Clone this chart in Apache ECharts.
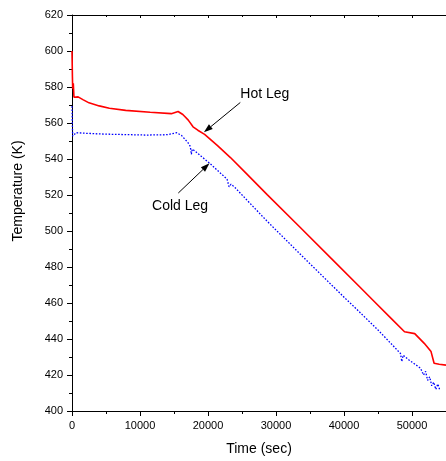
<!DOCTYPE html>
<html>
<head>
<meta charset="utf-8">
<script src="https://cdn.jsdelivr.net/npm/echarts@6/dist/echarts.min.js"></script>
<style>
html,body{margin:0;padding:0;background:#fff;}
#c{width:446px;height:461px;}
</style>
</head>
<body>
<div id="c"></div>
<script>
// ---- data ----
const hotTime = [0, 60, 100, 190, 290, 900, 1600, 2500, 4000, 5500, 7900, 11500, 14600, 15600, 16300, 17100, 17800, 18500, 19500, 21400, 23300, 25800, 28700, 33500, 38300, 42400, 44300, 47000, 48900, 50400, 51800, 52800, 53250, 54000, 55000];
const hotTemp = [600, 586, 579, 582, 574.3, 574.5, 573, 571.2, 569.5, 568.2, 567, 566, 565.2, 566.4, 564.7, 561.6, 557.9, 556, 553.7, 547.4, 540.8, 531.3, 520.2, 502.2, 484.1, 468.6, 461.4, 451.2, 444, 443, 437.6, 433, 426.5, 426, 425.5];

const coldTime = [0, 60, 100, 300, 600, 2500, 5000, 11000, 14000, 15400, 16100, 17050, 17400, 17550, 17700, 18200, 19000, 20200, 22800, 23100, 23400, 24000, 28600, 34000, 40200, 41600, 45000, 48300, 48500, 48700, 49500, 51250, 51700, 52000, 52300, 52600, 52900, 53200, 53500, 53800, 54100];
const coldTemp = [569.3, 558, 552.7, 553, 554.6, 554.2, 553.8, 553.3, 553.5, 554.6, 553.1, 549.1, 547, 542.6, 545.5, 544, 541.5, 537.8, 528.8, 524.6, 526, 524, 505.8, 485.5, 462.5, 457.5, 445, 432, 427.5, 431, 428.5, 423.8, 420, 422, 417, 419, 414, 416, 412, 415, 411.5];

const xTicks = { min: 0, max: 55000, interval: 10000 };
const yTicks = { min: 400, max: 620, interval: 20 };

const seriesNames = ['Hot Leg', 'Cold Leg'];
// annotation anchors in data coordinates: [time, temp]
const hotLabelAt = [24750, 576.1];
const hotArrow = { from: [24750, 571.4], to: [19395, 554.8] };
const coldLabelAt = [11770, 513.6];
const coldArrow = { from: [15630, 521.1], to: [20220, 537.6] };

// ---- chart ----
const FONT = '"Liberation Sans", Arial, sans-serif';
const chart = echarts.init(document.getElementById('c'), null, { renderer: 'canvas' });

const zip = (a, b) => a.map((v, i) => [v, b[i]]);

const baseX = {
  type: 'value',
  min: xTicks.min, max: xTicks.max, interval: xTicks.interval,
  splitLine: { show: false },
  axisLine: { show: true, onZero: false, lineStyle: { color: '#000', width: 1 } }
};

chart.setOption({
  animation: false,
  backgroundColor: '#fff',
  grid: { left: 72, top: 15, width: 380, height: 398, containLabel: false },
  xAxis: [
    Object.assign({}, baseX, {
      position: 'bottom',
      axisTick: { show: true, inside: false, length: 5, lineStyle: { color: '#000' } },
      minorTick: { show: true, splitNumber: 2, length: 3, lineStyle: { color: '#000' } },
      axisLabel: { show: true, color: '#000', fontSize: 11, fontFamily: FONT, margin: 9, showMaxLabel: false,
                   formatter: v => String(v) },
      name: 'Time (sec)', nameLocation: 'middle', nameGap: 31,
      nameTextStyle: { color: '#000', fontSize: 14, fontFamily: FONT }
    }),
    Object.assign({}, baseX, {
      position: 'top',
      axisTick: { show: true, inside: true, length: 3, lineStyle: { color: '#000' } },
      minorTick: { show: true, splitNumber: 2, length: 2, lineStyle: { color: '#000' } },
      axisLabel: { show: false }
    })
  ],
  yAxis: {
    type: 'value',
    min: yTicks.min, max: yTicks.max, interval: yTicks.interval,
    splitLine: { show: false },
    axisLine: { show: true, onZero: false, lineStyle: { color: '#000', width: 1 } },
    axisTick: { show: true, inside: false, length: 5, lineStyle: { color: '#000' } },
    minorTick: { show: true, splitNumber: 2, length: 3, lineStyle: { color: '#000' } },
    axisLabel: { color: '#000', fontSize: 11, fontFamily: FONT, margin: 9, formatter: v => String(v) }
  },
  series: [
    {
      name: seriesNames[0], type: 'line', xAxisIndex: 0,
      data: zip(hotTime, hotTemp),
      showSymbol: false, symbol: 'none',
      lineStyle: { color: '#ff0000', width: 1.6 },
      clip: false, z: 3
    },
    {
      name: seriesNames[1], type: 'line', xAxisIndex: 0,
      data: zip(coldTime, coldTemp),
      showSymbol: false, symbol: 'none',
      lineStyle: { color: '#0000ff', width: 1.3, type: [1.6, 1.6] },
      clip: false, z: 2
    }
  ]
});

function px(p) { return chart.convertToPixel({ xAxisIndex: 0, yAxisIndex: 0 }, p); }

function arrow(fromD, toD) {
  const a = px(fromD), b = px(toD);
  const dx = b[0] - a[0], dy = b[1] - a[1];
  const len = Math.hypot(dx, dy);
  const ux = dx / len, uy = dy / len;
  const L = 9, W = 3;
  const bx = b[0] - ux * L, by = b[1] - uy * L;
  return [
    { type: 'line', shape: { x1: a[0], y1: a[1], x2: bx, y2: by }, style: { stroke: '#000', lineWidth: 1 }, z: 10 },
    { type: 'polygon', shape: { points: [[b[0], b[1]], [bx - uy * W, by + ux * W], [bx + uy * W, by - ux * W]] }, style: { fill: '#000' }, z: 10 }
  ];
}

const hl = px(hotLabelAt), cl = px(coldLabelAt);
chart.setOption({
  graphic: [
    { type: 'text', x: 18, y: 191, rotation: Math.PI / 2,
      style: { text: 'Temperature (K)', fill: '#000', font: '14px ' + FONT, align: 'center', verticalAlign: 'middle' } },
    { type: 'text', x: hl[0], y: hl[1], style: { text: seriesNames[0], fill: '#000', font: '14px ' + FONT, align: 'left', verticalAlign: 'middle' }, z: 10 },
    { type: 'text', x: cl[0], y: cl[1], style: { text: seriesNames[1], fill: '#000', font: '14px ' + FONT, align: 'left', verticalAlign: 'middle' }, z: 10 }
  ].concat(arrow(hotArrow.from, hotArrow.to), arrow(coldArrow.from, coldArrow.to))
});
</script>
</body>
</html>
